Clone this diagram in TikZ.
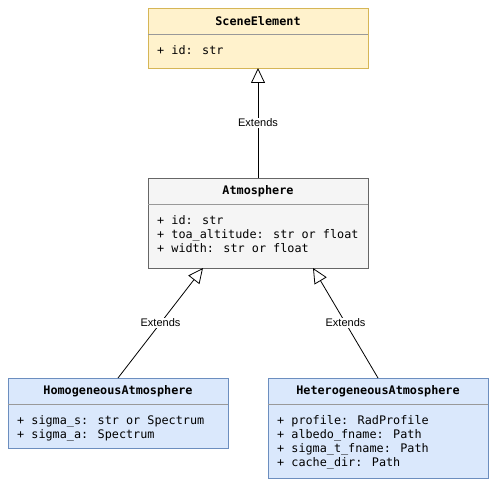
\documentclass[tikz,border=0pt]{standalone}
\usepackage{fontspec}
\setmainfont{Liberation Sans}
\newfontfamily\umlmono{DejaVu Sans Mono}
\usetikzlibrary{arrows.meta,calc}

\definecolor{yelfill}{HTML}{FFF2CC}
\definecolor{yelline}{HTML}{D6B656}
\definecolor{grayfill}{HTML}{F5F5F5}
\definecolor{grayline}{HTML}{666666}
\definecolor{bluefill}{HTML}{DAE8FC}
\definecolor{blueline}{HTML}{6C8EBF}
\definecolor{sepline}{HTML}{999999}

\tikzset{
  classbox/.style={draw, line width=0.8pt, minimum width=220pt, inner sep=0pt, outer sep=0pt},
  classtitle/.style={font=\umlmono\bfseries\fontsize{11.8}{14}\selectfont, inner sep=0pt, anchor=center},
  classattrs/.style={font=\umlmono\fontsize{11.8}{14}\selectfont, align=left, inner sep=0pt, anchor=north west},
  sepstroke/.style={draw=sepline, line width=0.8pt},
  extends/.style={line width=0.8pt, -{Triangle[open, length=15pt, width=14pt]}},
  extlabel/.style={font=\fontsize{11}{13}\selectfont, fill=white, inner sep=1pt}
}

\begin{document}
\begin{tikzpicture}[x=1pt, y=-1pt]
  \useasboundingbox (0,0) rectangle (501,492);

  % class boxes
  \node[classbox, fill=yelfill, draw=yelline, minimum height=60pt] (scene) at (258,38) {};
  \node[classbox, fill=grayfill, draw=grayline, minimum height=90pt] (atmo) at (258,223) {};
  \node[classbox, fill=bluefill, draw=blueline, minimum height=70pt] (homog) at (118,413) {};
  \node[classbox, fill=bluefill, draw=blueline, minimum height=100pt] (hetero) at (378,428) {};

  % header separators
  \foreach \c in {scene, atmo, homog, hetero} {
    \draw[sepstroke] ([yshift=-26pt, xshift=0.4pt]\c.north west) -- ([yshift=-26pt, xshift=-0.4pt]\c.north east);
  }

  % class names
  \node[classtitle] (sceneT) at ([yshift=-13.5pt]scene.north) {SceneElement};
  \node[classtitle] (atmoT) at ([yshift=-13.5pt]atmo.north) {Atmosphere};
  \node[classtitle] (homogT) at ([yshift=-13.5pt]homog.north) {HomogeneousAtmosphere};
  \node[classtitle] (heteroT) at ([yshift=-13.5pt]hetero.north) {HeterogeneousAtmosphere};

  % attributes
  \node[classattrs] (sceneA) at ([xshift=9pt, yshift=-37pt]scene.north west) {+ id: str};
  \node[classattrs] (atmoA) at ([xshift=9pt, yshift=-37pt]atmo.north west)
    {+ id: str\\+ toa\_altitude: str or float\\+ width: str or float};
  \node[classattrs] (homogA) at ([xshift=9pt, yshift=-37pt]homog.north west)
    {+ sigma\_s: str or Spectrum\\+ sigma\_a: Spectrum};
  \node[classattrs] (heteroA) at ([xshift=9pt, yshift=-37pt]hetero.north west)
    {+ profile: RadProfile\\+ albedo\_fname: Path\\+ sigma\_t\_fname: Path\\+ cache\_dir: Path};

  % inheritance connectors
  \draw[extends] (atmo.north) -- node[extlabel] {Extends} (scene.south);
  \draw[extends] (homog.north) -- node[extlabel] {Extends}
    ($(atmo.south west)!0.25!(atmo.south east)$);
  \draw[extends] (hetero.north) -- node[extlabel] {Extends}
    ($(atmo.south west)!0.75!(atmo.south east)$);
\end{tikzpicture}
\end{document}
